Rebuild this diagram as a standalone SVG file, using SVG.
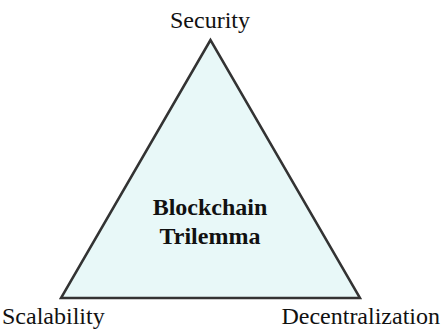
<svg xmlns="http://www.w3.org/2000/svg" width="443" height="331" viewBox="0 0 443 331">
<style>
.lbl{font-family:"Liberation Serif","Times New Roman",serif;font-size:24px;fill:#111}
.ttl{font-family:"Liberation Serif","Times New Roman",serif;font-size:24px;font-weight:bold;fill:#111}
</style>
<rect width="443" height="331" fill="#fff"/>
<g id="triangle">
<polygon points="210.5,40 61,298 360,298" fill="#E8F8F8" stroke="#333" stroke-width="2.5" stroke-linejoin="miter"/>
<text class="ttl" x="210" y="215" text-anchor="middle">Blockchain</text>
<text class="ttl" x="210" y="244" text-anchor="middle">Trilemma</text>
</g>
<g id="security"><text class="lbl" x="210" y="28" text-anchor="middle">Security</text></g>
<g id="scalability"><text class="lbl" x="2" y="324">Scalability</text></g>
<g id="decentralization"><text class="lbl" x="440" y="324" text-anchor="end">Decentralization</text></g>
</svg>
